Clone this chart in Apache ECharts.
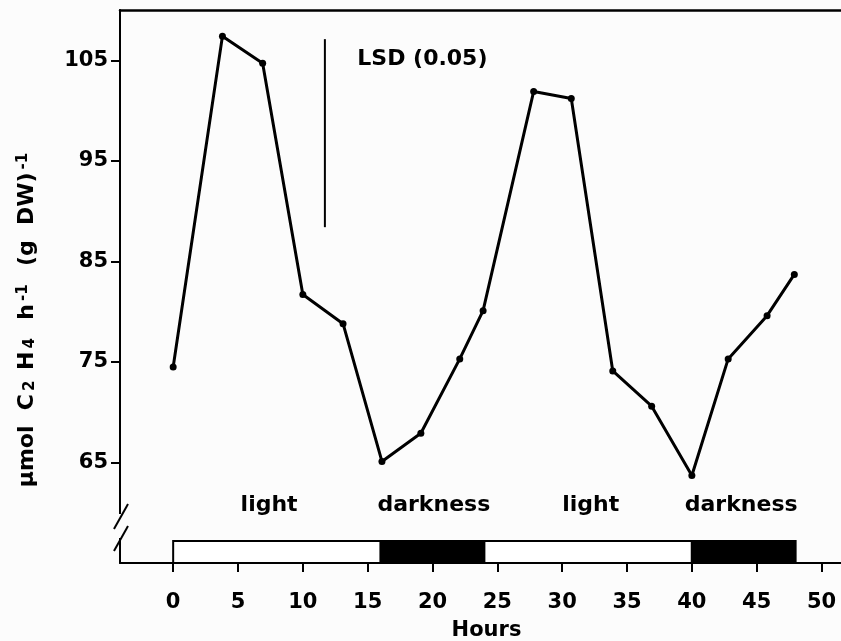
<!DOCTYPE html>
<html>
<head>
<meta charset="utf-8">
<script src="https://cdn.jsdelivr.net/npm/echarts@6/dist/echarts.min.js"></script>
<style>
  html, body { margin: 0; padding: 0; background: #fcfcfc; }
  #chart { width: 841px; height: 641px; }
</style>
</head>
<body>
<div id="chart"></div>
<script>
// values
var hours = [0, 3.8, 6.9, 10, 13.1, 16.1, 19.1, 22.1, 23.9, 27.8, 30.7, 33.9, 36.9, 40, 42.8, 45.8, 47.9];
var rates = [74.5, 107.4, 104.7, 81.7, 78.8, 65.1, 67.9, 75.3, 80.1, 101.9, 101.2, 74.1, 70.6, 63.7, 75.3, 79.6, 83.7];

// light / dark periods
var phaseStart = [0, 16, 24, 40];
var phaseEnd = [16, 24, 40, 48];
var phaseDark = [0, 1, 0, 1];
var phaseNames = ['light', 'darkness', 'light', 'darkness'];
var phaseLabelHour = [7.4, 20.1, 32.2, 43.8];

// axis ticks
var xTicks = [0, 5, 10, 15, 20, 25, 30, 35, 40, 45, 50];
var yTicks = [65, 75, 85, 95, 105];

// LSD bar
var lsdHour = 11.7;
var lsdRange = [88.4, 107.1];
var lsdText = 'LSD (0.05)';

var FONT = 'DejaVu Sans';
var chart = echarts.init(document.getElementById('chart'));

// plain text placed at data coordinates
function textSeries(points, texts, align) {
  return {
    type: 'custom',
    clip: false,
    silent: true,
    data: points,
    renderItem: function (params, api) {
      var p = api.coord([api.value(0), api.value(1)]);
      return {
        type: 'text',
        x: p[0],
        y: p[1],
        style: {
          text: texts[params.dataIndex],
          fill: '#000',
          font: 'bold 22px "DejaVu Sans"',
          align: align,
          verticalAlign: 'middle'
        }
      };
    }
  };
}

var option = {
  backgroundColor: '#fcfcfc',
  animation: false,
  textStyle: { fontFamily: FONT, fontWeight: 'bold', color: '#000' },
  grid: { left: 120, top: 10, right: 0, bottom: 78, outerBoundsMode: 'none', containLabel: false },
  xAxis: [
    {
      type: 'value',
      min: -4.1,
      max: 51.5,
      splitLine: { show: false },
      axisLine: { onZero: false, lineStyle: { color: '#000', width: 2 } },
      axisTick: { length: 9, lineStyle: { color: '#000', width: 2 }, customValues: xTicks },
      axisLabel: {
        customValues: xTicks,
        margin: 29,
        fontSize: 21,
        fontWeight: 'bold',
        fontFamily: FONT,
        color: '#000'
      },
      name: 'Hours',
      nameLocation: 'middle',
      nameGap: 57,
      nameTextStyle: { fontSize: 21, fontWeight: 'bold', fontFamily: FONT, color: '#000', padding: [0, 0, 0, 12] }
    },
    {
      type: 'value',
      position: 'top',
      min: -4.1,
      max: 51.5,
      splitLine: { show: false },
      axisLine: { show: true, onZero: false, lineStyle: { color: '#000', width: 2.5 } },
      axisTick: { show: false },
      axisLabel: { show: false }
    }
  ],
  yAxis: {
    type: 'value',
    min: 55,
    max: 110,
    splitLine: { show: false },
    axisLine: { show: true, onZero: false, lineStyle: { color: '#000', width: 2 } },
    axisTick: { show: true, length: 9, lineStyle: { color: '#000', width: 2 }, customValues: yTicks },
    axisLabel: {
      customValues: yTicks,
      margin: 12,
      fontSize: 21,
      fontWeight: 'bold',
      fontFamily: FONT,
      color: '#000'
    },
    name: '{t|µmol  C}{s|2}{t| H}{s|4}{t|  h}{p|-1}{t|  (g  DW)}{p|-1}',
    nameLocation: 'middle',
    nameRotate: 90,
    nameGap: 82,
    nameTextStyle: {
      padding: [0, 64, 0, 0],
      rich: {
        t: { fontSize: 22, fontWeight: 'bold', fontFamily: FONT, color: '#000' },
        s: { fontSize: 15, fontWeight: 'bold', fontFamily: FONT, color: '#000', verticalAlign: 'bottom', padding: [0, 3, 0, 3] },
        p: { fontSize: 15, fontWeight: 'bold', fontFamily: FONT, color: '#000', verticalAlign: 'top', padding: [0, 3, 0, 3] }
      }
    }
  },
  series: [
    {
      // light/dark bar along the time axis
      type: 'custom',
      clip: false,
      encode: { x: [0, 1] },
      data: phaseStart.map(function (s, i) { return [s, phaseEnd[i], phaseDark[i]]; }),
      renderItem: function (params, api) {
        var p0 = api.coord([api.value(0), 57.2]);
        var p1 = api.coord([api.value(1), 55]);
        return {
          type: 'rect',
          shape: { x: p0[0], y: p0[1], width: p1[0] - p0[0], height: p1[1] - p0[1] },
          style: { fill: api.value(2) ? '#000' : '#fff', stroke: '#000', lineWidth: 2 }
        };
      }
    },
    textSeries(phaseLabelHour.map(function (h) { return [h, 60.7]; }), phaseNames, 'center'),
    {
      type: 'line',
      symbol: 'none',
      lineStyle: { color: '#000', width: 2 },
      data: [[lsdHour, lsdRange[0]], [lsdHour, lsdRange[1]]]
    },
    textSeries([[14.2, 105.1]], [lsdText], 'left'),
    {
      type: 'line',
      data: hours.map(function (h, i) { return [h, rates[i]]; }),
      symbol: 'circle',
      symbolSize: 7,
      itemStyle: { color: '#000' },
      lineStyle: { color: '#000', width: 3 },
      z: 5
    }
  ],
  graphic: [
    // axis break on the y axis
    { type: 'rect', shape: { x: 115, y: 514, width: 10, height: 24 }, style: { fill: '#fcfcfc' }, z: 100 },
    { type: 'line', shape: { x1: 114, y1: 529, x2: 128, y2: 504 }, style: { stroke: '#000', lineWidth: 2 }, z: 101 },
    { type: 'line', shape: { x1: 114, y1: 551, x2: 128, y2: 526 }, style: { stroke: '#000', lineWidth: 2 }, z: 101 }
  ]
};

chart.setOption(option);
</script>
</body>
</html>
